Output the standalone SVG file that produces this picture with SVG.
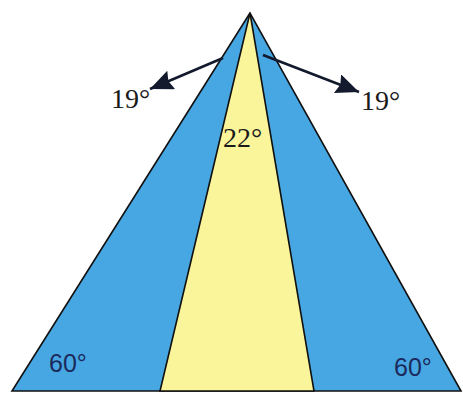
<svg xmlns="http://www.w3.org/2000/svg" width="463" height="393" viewBox="0 0 463 393">
  <style>
    .edge { stroke: #111; stroke-width: 1.6; stroke-linejoin: miter; }
    .blue { fill: #47a7e2; }
    .yellow { fill: #faf59a; }
    .serif { font-family: "Liberation Serif", "Times New Roman", serif; font-size: 28px; fill: #1a1a1a; }
    .sans { font-family: "Liberation Sans", Arial, sans-serif; font-size: 25px; fill: #1b2a5c; }
    .arrow { stroke: #141a2e; stroke-width: 2.6; fill: none; marker-end: url(#head); }
  </style>
  <defs>
    <marker id="head" markerUnits="userSpaceOnUse" markerWidth="26" markerHeight="22" refX="23" refY="10" orient="auto">
      <path d="M0,0 L23,10 L0,20 L3,10 Z" fill="#141a2e"/>
    </marker>
  </defs>
  <rect width="463" height="393" fill="#ffffff"/>
  <g id="outer-cone">
    <polygon class="blue edge" points="250,13 12,391 461,391"/>
  </g>
  <g id="inner-cone">
    <polygon class="yellow edge" points="250,13 160,391 314,391"/>
  </g>
  <g id="connectors">
    <line class="arrow" x1="223" y1="58" x2="150" y2="89"/>
    <line class="arrow" x1="263" y1="55" x2="359" y2="92"/>
  </g>
  <g id="labels">
    <text class="serif" x="111" y="108">19°</text>
    <text class="serif" x="361" y="110">19°</text>
    <text class="serif" x="223" y="147">22°</text>
    <text class="sans" x="49" y="372">60°</text>
    <text class="sans" x="394" y="376">60°</text>
  </g>
</svg>
